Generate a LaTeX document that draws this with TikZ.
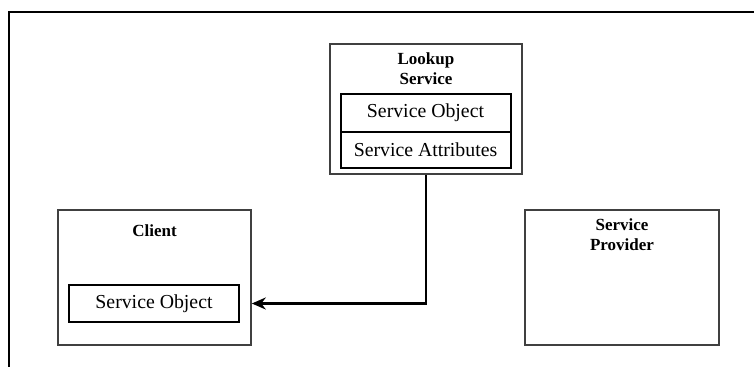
\documentclass[tikz,border=0pt]{standalone}
\usepackage{fontspec}
\setmainfont{Liberation Serif}
\usetikzlibrary{arrows.meta,positioning}

\begin{document}
\begin{tikzpicture}[x=0.5pt, y=-0.5pt,
    outer/.style={rectangle, draw=black!75, line width=0.8pt, inner sep=0pt},
    inner/.style={rectangle, draw=black, line width=1pt, inner sep=0pt, outer sep=0pt, minimum width=85pt, font=\fontsize{9.9}{12}\selectfont},
    title/.style={align=center, inner sep=0pt, font=\fontsize{8.5}{10}\selectfont\bfseries}
]
    \useasboundingbox (0,0) rectangle (754,367);

    % Frame
    \draw[line width=1pt] (754,12) -- (9,12) -- (9,367);

    % Lookup service
    \node[outer, minimum width=96pt, minimum height=65pt] (lookup) at (426,109) {};
    \node[title] (lookuptitle) at (426,69) {Lookup\\Service};
    \node[inner, minimum height=19pt] (lobj) at (425.5,113) {Service Object};
    \node[inner, minimum height=18pt, below=0pt of lobj] (lattr) {Service Attributes};

    % Client
    \node[outer, minimum width=96.5pt, minimum height=67.5pt] (client) at (154.5,277.5) {};
    \node[title] (clienttitle) at (154.5,231) {Client};
    \node[inner, minimum height=18.5pt] (cobj) at (154,303.5) {Service Object};

    % Service provider
    \node[outer, minimum width=97pt, minimum height=67.5pt] (provider) at (622,277.5) {};
    \node[title] (providertitle) at (622,234.5) {Service\\Provider};

    % Download of the service object
    \coordinate (cin) at (cobj.east -| client.east);
    \draw[-{Stealth[length=7pt, width=6pt]}, line width=1.2pt] (lookup.south) |- (cin);
\end{tikzpicture}
\end{document}
